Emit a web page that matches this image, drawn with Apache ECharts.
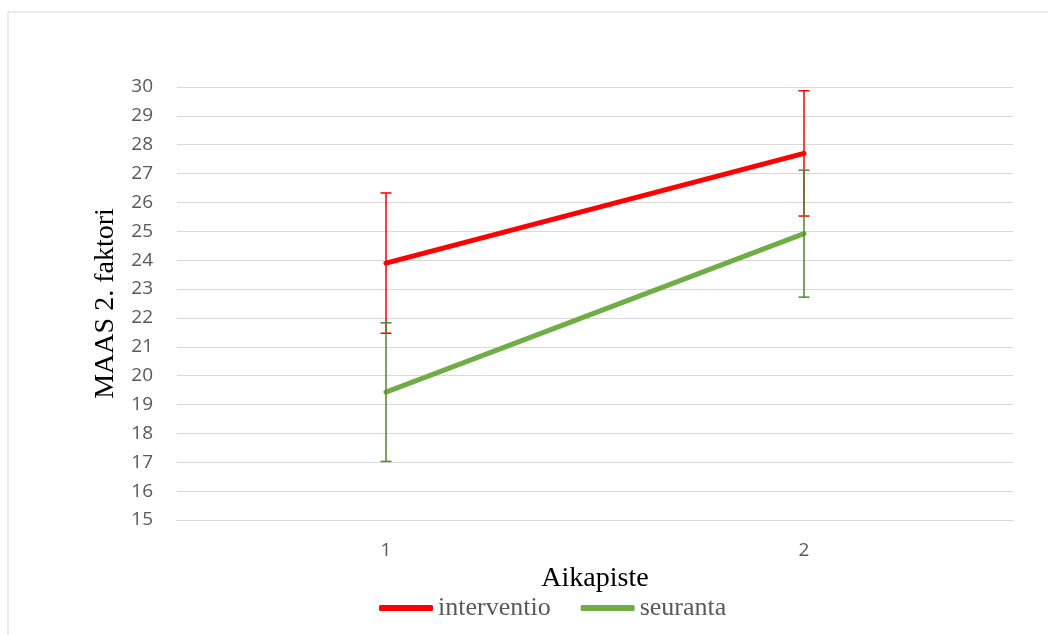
<!DOCTYPE html>
<html><head><meta charset="utf-8">
<style>html,body{margin:0;padding:0;background:#fff}#c{width:1048px;height:635px}</style>
<script src="https://cdn.jsdelivr.net/npm/echarts@6/dist/echarts.min.js"></script>
</head><body><div id="c"></div>
<script>
const categories = ['1', '2'];
const seriesNames = ['interventio', 'seuranta'];
const interventio = [23.9, 27.7];
const interventioErr = [2.43, 2.17];
const seuranta = [19.43, 24.92];
const seurantaErr = [2.4, 2.2];
const yTicks = {min: 15, max: 30, interval: 1};

const chart = echarts.init(document.getElementById('c'));
function errSeries(name, vals, errs, color) {
  return {
    type: 'custom', name: name + ' err', z: 3, silent: true,
    data: vals.map((v, i) => [i, v - errs[i], v + errs[i]]),
    renderItem: function (params, api) {
      const lo = api.coord([api.value(0), api.value(1)]);
      const hi = api.coord([api.value(0), api.value(2)]);
      const w = 5.5;
      const st = {stroke: color, lineWidth: 1.5};
      return {type: 'group', children: [
        {type: 'line', shape: {x1: lo[0], y1: lo[1], x2: hi[0], y2: hi[1]}, style: st},
        {type: 'line', shape: {x1: lo[0] - w, y1: lo[1], x2: lo[0] + w, y2: lo[1]}, style: st},
        {type: 'line', shape: {x1: hi[0] - w, y1: hi[1], x2: hi[0] + w, y2: hi[1]}, style: st}
      ]};
    }
  };
}
chart.setOption({
  animation: false,
  graphic: [{type: 'rect', shape: {x: 8, y: 12, width: 1100, height: 700}, style: {fill: 'none', stroke: '#d9d9d9', lineWidth: 1}, z: -1}],
  grid: {left: 177, right: 35, top: 87, bottom: 115},
  legend: {
    data: seriesNames, bottom: 9, left: 374, itemWidth: 54, itemHeight: 6, itemGap: 30,
    icon: 'roundRect',
    textStyle: {fontFamily: 'Liberation Serif', fontSize: 26, color: '#595959', padding: [0, 0, 0, 0]}
  },
  xAxis: {
    type: 'category', data: categories, boundaryGap: true,
    name: 'Aikapiste', nameLocation: 'middle', nameGap: 35,
    nameTextStyle: {fontFamily: 'Liberation Serif', fontSize: 28, color: '#000'},
    axisLine: {show: true, lineStyle: {color: '#d9d9d9', width: 1}},
    axisTick: {show: false},
    axisLabel: {fontFamily: 'Open Sans', fontSize: 19, color: '#595959', margin: 21}
  },
  yAxis: {
    type: 'value', min: yTicks.min, max: yTicks.max, interval: yTicks.interval,
    name: 'MAAS 2. faktori', nameLocation: 'middle', nameGap: 57,
    nameTextStyle: {fontFamily: 'Liberation Serif', fontSize: 28, color: '#000'},
    axisLine: {show: false}, axisTick: {show: false},
    axisLabel: {fontFamily: 'Open Sans', fontSize: 19, color: '#595959', margin: 24},
    splitLine: {lineStyle: {color: '#d9d9d9', width: 1}}
  },
  series: [
    {name: seriesNames[0], type: 'line', data: interventio, symbol: 'none', z: 2,
     lineStyle: {color: '#ff0000', width: 5, cap: 'round'}, itemStyle: {color: '#ff0000'}},
    {name: seriesNames[1], type: 'line', data: seuranta, symbol: 'none', z: 2,
     lineStyle: {color: '#70ad47', width: 5, cap: 'round'}, itemStyle: {color: '#70ad47'}},
    errSeries(seriesNames[0], interventio, interventioErr, '#ff0000'),
    errSeries(seriesNames[1], seuranta, seurantaErr, '#548235')
  ]
});
</script></body></html>
